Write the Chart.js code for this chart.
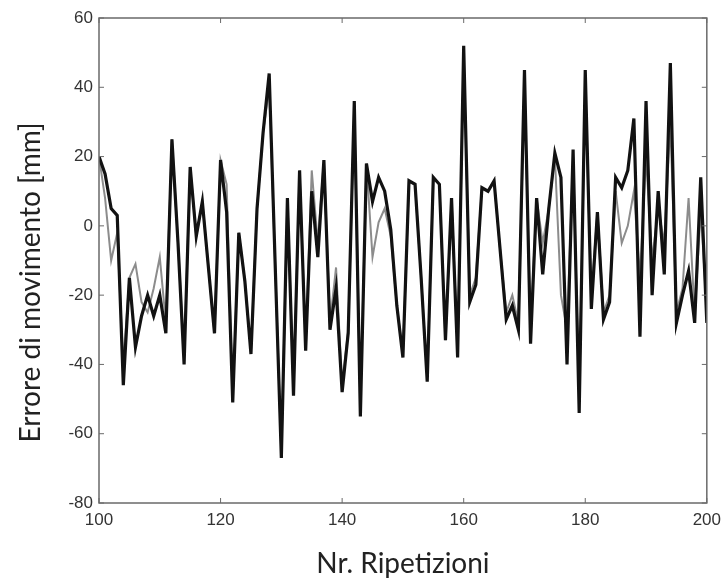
<!DOCTYPE html>
<html lang="it">
<head>
    <meta charset="UTF-8">
    <title>Errore di movimento</title>
    <script src="https://cdn.jsdelivr.net/npm/chart.js"></script>
    <style>
        body {
            margin: 0;
            background-color: #fff;
        }
        #chart-container {
            width: 728px;
            height: 585px;
        }
    </style>
</head>
<body>
    <div id="chart-container">
        <canvas id="error-chart" width="728" height="585"></canvas>
    </div>

    <script>
        // Data (repetitions 100..200)
        var firstRep = 100;
        var xTicks = [100, 120, 140, 160, 180, 200];
        var yTicks = [-80, -60, -40, -20, 0, 20, 40, 60];
        var yTitle = 'Errore di movimento [mm]';

        var errorBlack = [
            20, 15, 5, 3, -46, -15, -35, -26, -20, -26,
            -20, -31, 25, -5, -40, 17, -3, 7, -12, -31,
            19, 4, -51, -2, -16, -37, 5, 27, 44, -12,
            -67, 8, -49, 16, -36, 10, -9, 19, -30, -18,
            -48, -31, 36, -55, 18, 7, 14, 10, -1, -23,
            -38, 13, 12, -15, -45, 14, 12, -33, 8, -38,
            52, -22, -17, 11, 10, 13, -7, -27, -23, -30,
            45, -34, 8, -14, 5, 21, 14, -40, 22, -54,
            45, -24, 4, -27, -22, 14, 11, 16, 31, -32,
            36, -20, 10, -14, 47, -28, -20, -13, -28, 14,
            -28
        ];

        var errorGray = [
            20, 8, -10, -2, -40, -15, -11, -22, -25, -18,
            -9, -28, 25, -5, -38, 17, -3, 7, -12, -31,
            19, 12, -50, -2, -16, -36, 5, 27, 40, -12,
            -66, 8, -48, 16, -34, 16, -5, 19, -28, -12,
            -46, -30, 34, -52, 18, -9, 1, 5, -3, -23,
            -37, 13, 12, -15, -44, 14, 12, -33, 8, -36,
            48, -20, -15, 11, 10, 13, -7, -25, -20, -28,
            40, -30, 8, -5, 5, 20, -20, -30, 20, -50,
            40, -20, 4, -25, -20, 10, -5, 0, 10, -15,
            20, -10, 5, -5, 30, -25, -18, 8, -26, 5,
            -25
        ];

        function toPoints(values) {
            return values.map(function (v, i) {
                return { x: firstRep + i, y: v };
            });
        }

        // box frame with inward ticks (matlab style) + y title, which sits a bit low in the original
        var framePlugin = {
            id: 'frame',
            afterDraw: function (chart) {
                var ctx = chart.ctx;
                var a = chart.chartArea;
                var xs = chart.scales.x;
                var ys = chart.scales.y;
                ctx.save();
                ctx.strokeStyle = '#6a6a6a';
                ctx.lineWidth = 1.5;
                ctx.strokeRect(a.left, a.top, a.right - a.left, a.bottom - a.top);
                ctx.lineWidth = 1;
                ctx.beginPath();
                xTicks.forEach(function (t) {
                    var px = xs.getPixelForValue(t);
                    ctx.moveTo(px, a.bottom);
                    ctx.lineTo(px, a.bottom - 5);
                    ctx.moveTo(px, a.top);
                    ctx.lineTo(px, a.top + 5);
                });
                yTicks.forEach(function (t) {
                    var py = ys.getPixelForValue(t);
                    ctx.moveTo(a.left, py);
                    ctx.lineTo(a.left + 5, py);
                    ctx.moveTo(a.right, py);
                    ctx.lineTo(a.right - 5, py);
                });
                ctx.stroke();

                ctx.translate(31, (a.top + a.bottom) / 2 + 22);
                ctx.rotate(-Math.PI / 2);
                ctx.fillStyle = '#222';
                ctx.font = '28px Lato';
                ctx.textAlign = 'center';
                ctx.textBaseline = 'middle';
                ctx.fillText(yTitle, 0, 0);
                ctx.restore();
            }
        };

        var ctx = document.getElementById('error-chart').getContext('2d');
        var errorChart = new Chart(ctx, {
            type: 'line',
            data: {
                datasets: [{
                    label: 'Serie 1',
                    data: toPoints(errorBlack),
                    borderColor: '#121212',
                    borderWidth: 3.2,
                    pointRadius: 0,
                    tension: 0,
                    order: 1
                }, {
                    label: 'Serie 2',
                    data: toPoints(errorGray),
                    borderColor: '#8c8c8c',
                    borderWidth: 2,
                    pointRadius: 0,
                    tension: 0,
                    order: 2
                }]
            },
            options: {
                responsive: false,
                animation: false,
                layout: {
                    padding: { top: 18, right: 19, left: 0, bottom: 0 }
                },
                plugins: {
                    legend: { display: false },
                    tooltip: { enabled: false }
                },
                scales: {
                    x: {
                        type: 'linear',
                        min: 100,
                        max: 200,
                        afterBuildTicks: function (scale) {
                            scale.ticks = xTicks.map(function (v) { return { value: v }; });
                        },
                        afterFit: function (scale) { scale.height = 82; },
                        grid: { display: false, drawTicks: false },
                        border: { display: false },
                        ticks: {
                            padding: 7,
                            color: '#333',
                            font: { family: 'Liberation Sans', size: 17 },
                            maxRotation: 0
                        },
                        title: {
                            display: true,
                            text: 'Nr. Ripetizioni',
                            color: '#222',
                            font: { family: 'Lato', size: 28 },
                            padding: { top: 0, bottom: 4 }
                        }
                    },
                    y: {
                        min: -80,
                        max: 60,
                        afterBuildTicks: function (scale) {
                            scale.ticks = yTicks.map(function (v) { return { value: v }; });
                        },
                        afterFit: function (scale) { scale.width = 99; },
                        grid: { display: false, drawTicks: false },
                        border: { display: false },
                        ticks: {
                            padding: 6,
                            color: '#333',
                            font: { family: 'Liberation Sans', size: 17 }
                        },
                        title: { display: false }
                    }
                }
            },
            plugins: [framePlugin]
        });
    </script>
</body>
</html>
